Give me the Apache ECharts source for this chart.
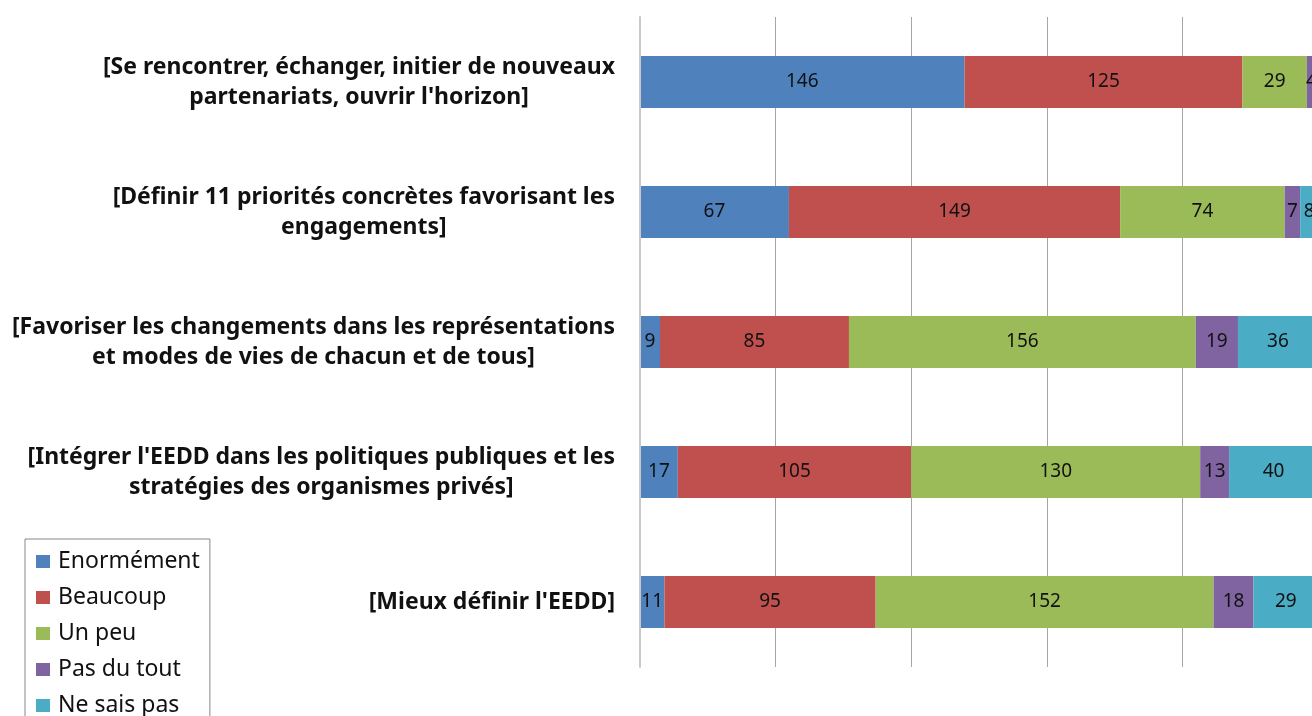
<!DOCTYPE html>
<html>
<head>
<meta charset="utf-8">
<script src="https://cdn.jsdelivr.net/npm/echarts@6/dist/echarts.min.js"></script>
<style>
  html, body { margin: 0; padding: 0; background: #fff; }
  #chart { width: 1312px; height: 716px; }
</style>
</head>
<body>
<div id="chart"></div>
<script>
// categories, top to bottom
var categories = [
  "[Se rencontrer, échanger, initier de nouveaux\npartenariats, ouvrir l'horizon]",
  "[Définir 11 priorités concrètes favorisant les\nengagements]",
  "[Favoriser les changements dans les représentations\net modes de vies de chacun et de tous]",
  "[Intégrer l'EEDD dans les politiques publiques et les\nstratégies des organismes privés]",
  "[Mieux définir l'EEDD]"
];
var seriesNames = ["Enormément", "Beaucoup", "Un peu", "Pas du tout", "Ne sais pas"];
var enormement = [146, 67, 9, 17, 11];
var beaucoup = [125, 149, 85, 105, 95];
var unPeu = [29, 74, 156, 130, 152];
var pasDuTout = [4, 7, 19, 13, 18];
var neSaisPas = [1, 8, 36, 40, 29];
var colors = ["#4f81bd", "#c0504d", "#9bbb59", "#8064a2", "#4bacc6"];

// each row totals 305 answers (100 %), gridline every 20 %
var total = 305;
var step = 61;

var font = "'Noto Sans', 'DejaVu Sans', sans-serif";
var myChart = echarts.init(document.getElementById("chart"));

var values = [enormement, beaucoup, unPeu, pasDuTout, neSaisPas];
var series = seriesNames.map(function (name, i) {
  return {
    name: name,
    type: "bar",
    stack: "total",
    barWidth: "40%",
    data: values[i],
    itemStyle: { color: colors[i] },
    label: {
      show: true,
      position: "inside",
      color: "#111",
      fontFamily: font,
      fontSize: 19
    }
  };
});

myChart.setOption({
  animation: false,
  color: colors,
  grid: {
    left: 640,
    top: 17,
    width: 678,
    height: 650,
    outerBoundsMode: "none"
  },
  legend: {
    orient: "vertical",
    left: 25,
    top: 539,
    height: 300,
    padding: [11, 10, 11, 11],
    borderColor: "#888",
    borderWidth: 1,
    icon: "rect",
    itemWidth: 14,
    itemHeight: 13,
    itemGap: 13,
    textStyle: {
      fontFamily: font,
      fontSize: 23,
      color: "#111",
      padding: [0, 0, 0, 3]
    },
    data: seriesNames
  },
  xAxis: {
    type: "value",
    min: 0,
    max: total,
    interval: step,
    axisLabel: { show: false },
    axisLine: { show: false },
    axisTick: { show: false },
    splitLine: { lineStyle: { color: "#a6a6a6", width: 1 } }
  },
  yAxis: {
    type: "category",
    inverse: true,
    z: 5,
    data: categories,
    axisLine: { lineStyle: { color: "#c8c8c8", width: 2 } },
    axisTick: { length: 9, lineStyle: { color: "#c8c8c8", width: 2 } },
    axisLabel: {
      margin: 25,
      align: "right",
      formatter: function (v) {
        // centre every line inside the right-aligned block
        return v.split("\n").map(function (s) { return "{c|" + s + "}"; }).join("\n");
      },
      rich: {
        c: {
          align: "center",
          fontFamily: font,
          fontWeight: "bold",
          fontSize: 23,
          lineHeight: 30,
          color: "#111"
        }
      }
    }
  },
  series: series
});
</script>
</body>
</html>
